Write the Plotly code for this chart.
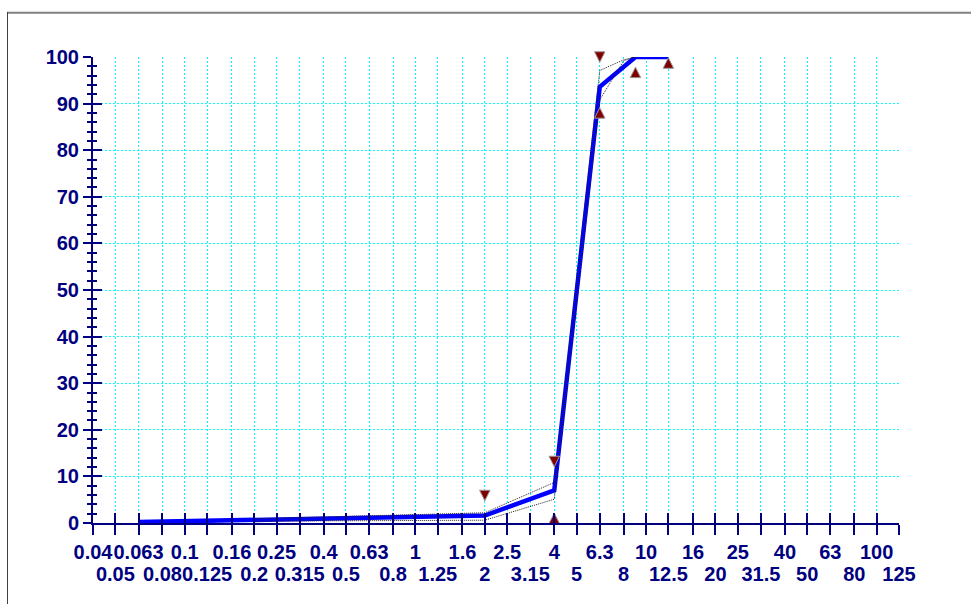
import math
import plotly.graph_objects as go

# Sieve openings (mm) shown on the grading axis
sieve_sizes = [0.04, 0.05, 0.063, 0.08, 0.1, 0.125, 0.16, 0.2, 0.25, 0.315,
               0.4, 0.5, 0.63, 0.8, 1, 1.25, 1.6, 2, 2.5, 3.15, 4, 5, 6.3, 8,
               10, 12.5, 16, 20, 25, 31.5, 40, 50, 63, 80, 100, 125]
sieve_labels = ["0.04", "0.05", "0.063", "0.08", "0.1", "0.125", "0.16", "0.2",
                "0.25", "0.315", "0.4", "0.5", "0.63", "0.8", "1", "1.25", "1.6",
                "2", "2.5", "3.15", "4", "5", "6.3", "8", "10", "12.5", "16", "20",
                "25", "31.5", "40", "50", "63", "80", "100", "125"]

# Grading curve (% passing)
passing_x = [0.063, 0.08, 0.1, 0.125, 0.16, 0.2, 0.25, 0.315, 0.4, 0.5, 0.63,
             0.8, 1, 1.25, 1.6, 2, 4, 6.3, 9, 12.5]
passing_y = [0.2, 0.3, 0.35, 0.45, 0.5, 0.6, 0.7, 0.75, 0.85, 0.95, 1.05,
             1.2, 1.3, 1.35, 1.4, 1.6, 7.0, 93.6, 100, 100]

# Envelope around the curve
band_x = [0.2, 0.5, 1, 2, 4, 6.3, 8, 9]
band_upper = [0.9, 1.4, 1.9, 2.2, 8.7, 97.1, 99.4, 100]
band_lower = [0.4, 0.45, 0.5, 0.6, 5.1, 90.8, 99.2, 100]

# Limit markers
max_x = [2, 4, 6.3]
max_y = [5.9, 13.2, 100]
min_x = [4, 6.3, 9, 12.5]
min_y = [1.0, 88.0, 96.7, 98.7]

y_ticks = [0, 10, 20, 30, 40, 50, 60, 70, 80, 90, 100]

NAVY = "#000080"
CYAN = "#00FFFF"
FONT = "Liberation Sans, Arial, sans-serif"
W, H = 971, 604
ML, MR, MT, MB = 93, 72, 57, 81
PW, PH = W - ML - MR, H - MT - MB


def px_x(px):
    return (px - ML) / PW


def px_y(py):
    return (H - MB - py) / PH


x_range = [math.log10(sieve_sizes[0]), math.log10(sieve_sizes[-1])]
tick_font = dict(family=FONT, size=20, color=NAVY, weight="bold")

fig = go.Figure()

fig.add_trace(go.Scatter(
    x=passing_x, y=passing_y, mode="lines",
    line=dict(color="#0000FF", width=4.5),
    cliponaxis=False, hoverinfo="skip", showlegend=False))

for band in (band_upper, band_lower):
    fig.add_trace(go.Scatter(
        x=band_x, y=band, mode="lines",
        line=dict(color="#222222", width=1, dash="1px,1px"),
        xaxis="x2", yaxis="y2", cliponaxis=False,
        hoverinfo="skip", showlegend=False))

mk = 10.5
fig.add_trace(go.Scatter(
    x=max_x, y=max_y, mode="markers", xaxis="x2", yaxis="y2",
    marker=dict(symbol="arrow-down", size=mk, standoff=mk / 2,
                color="#800000", line=dict(color="#9a9a9a", width=1)),
    cliponaxis=False, hoverinfo="skip", showlegend=False))
fig.add_trace(go.Scatter(
    x=min_x, y=min_y, mode="markers", xaxis="x2", yaxis="y2",
    marker=dict(symbol="arrow-down", angle=180, size=mk, standoff=mk / 2,
                color="#800000", line=dict(color="#9a9a9a", width=1)),
    cliponaxis=False, hoverinfo="skip", showlegend=False))

fig.update_layout(
    template="none",
    width=W, height=H,
    margin=dict(l=ML, r=MR, t=MT, b=MB, autoexpand=False),
    paper_bgcolor="white", plot_bgcolor="white",
    showlegend=False,
    xaxis=dict(
        type="log", range=x_range, tickmode="array", tickvals=sieve_sizes,
        ticktext=[t if i % 2 == 0 else "" for i, t in enumerate(sieve_labels)],
        ticks="outside", ticklen=10, tickwidth=2, tickcolor=NAVY,
        ticklabelstandoff=0,
        showline=True, linecolor=NAVY, linewidth=2,
        showgrid=True, gridcolor=CYAN, gridwidth=1, griddash="2px,2px",
        zeroline=False, tickfont=tick_font, tickangle=0),
    xaxis2=dict(
        type="log", range=x_range, overlaying="x", anchor="y", side="bottom",
        tickmode="array", tickvals=sieve_sizes,
        ticktext=[t if i % 2 == 1 else "" for i, t in enumerate(sieve_labels)],
        ticks="inside", ticklen=10, tickwidth=2, tickcolor=NAVY,
        ticklabelstandoff=37,
        showline=False, showgrid=False, zeroline=False,
        tickfont=tick_font, tickangle=0),
    yaxis=dict(
        range=[0, 100], tickmode="array", tickvals=y_ticks,
        ticks="outside", ticklen=8, tickwidth=2, tickcolor=NAVY,
        minor=dict(dtick=2, ticks="outside", ticklen=4, tickwidth=2,
                   tickcolor=NAVY, showgrid=False),
        showline=True, linecolor=NAVY, linewidth=2,
        showgrid=True, gridcolor=CYAN, gridwidth=1, griddash="2px,2px",
        zeroline=False, tickfont=tick_font),
    yaxis2=dict(
        range=[0, 100], overlaying="y", anchor="x", side="left",
        tickmode="array", tickvals=y_ticks,
        ticks="inside", ticklen=9, tickwidth=2, tickcolor=NAVY,
        minor=dict(dtick=2, ticks="inside", ticklen=4, tickwidth=2,
                   tickcolor=NAVY, showgrid=False),
        showticklabels=False, showline=False, showgrid=False, zeroline=False),
    shapes=[
        dict(type="line", xref="paper", yref="paper",
             x0=px_x(7), x1=px_x(W), y0=px_y(12.7), y1=px_y(12.7),
             line=dict(color="#808080", width=2)),
        dict(type="line", xref="paper", yref="paper",
             x0=px_x(7.5), x1=px_x(7.5), y0=px_y(12), y1=px_y(H),
             line=dict(color="#404040", width=1)),
    ],
)

fig.write_html("out.html")
